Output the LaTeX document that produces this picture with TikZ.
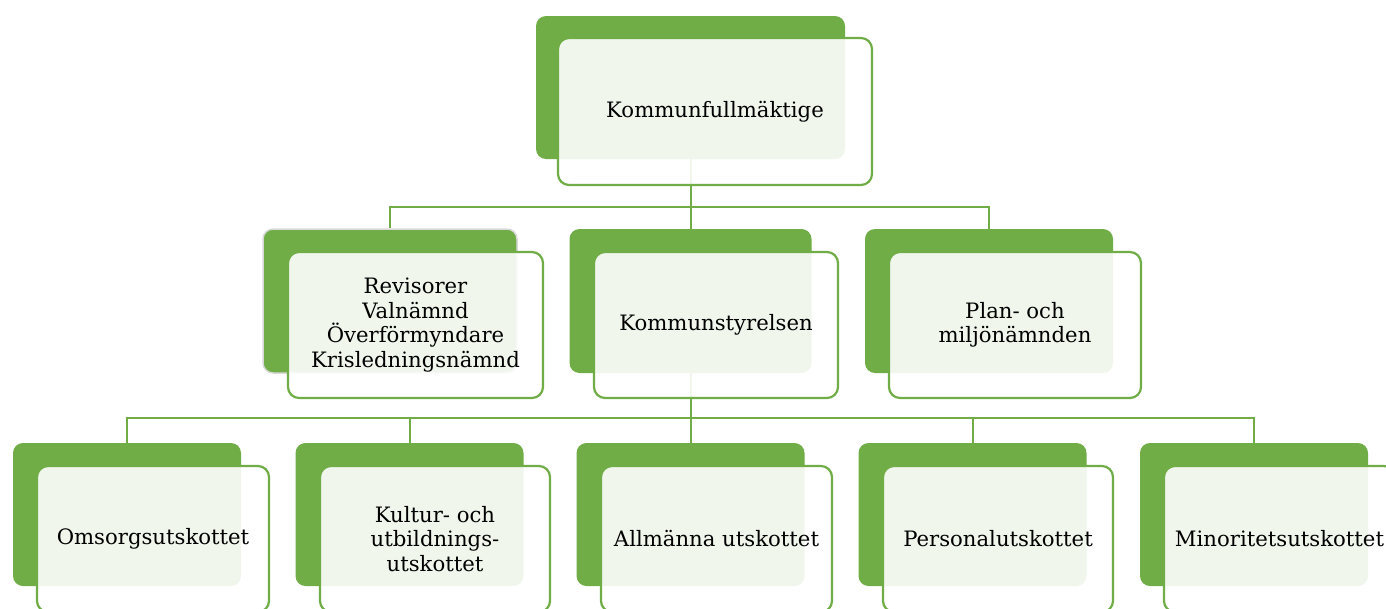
\documentclass[tikz,border=0pt]{standalone}
\usepackage{fontspec}
\setmainfont{DejaVu Serif}
\begin{document}
\begin{tikzpicture}[x=1pt,y=-1pt,
  gbox/.style={fill=grn, draw=none, rounded corners=10pt, inner sep=0pt},
  fbox/.style={draw=grn, line width=2.2pt, fill=white, fill opacity=0.9, text opacity=1,
    rounded corners=11pt, inner sep=0pt, align=center, font=\fontsize{21.2}{24.5}\selectfont},
  conn/.style={draw=grn, line width=2pt}]
\definecolor{grn}{HTML}{70AD47}
\useasboundingbox (0,0) rectangle (1386,608);
% green back boxes
\node[gbox, minimum width=309pt, minimum height=143pt] (kfG) at (690.5,87.5) {};
\node[gbox, draw=black!15, line width=1.5pt, minimum width=254pt, minimum height=144pt] (revG) at (390,301) {};
\node[gbox, minimum width=242pt, minimum height=144pt] (ksG) at (690.5,301) {};
\node[gbox, minimum width=248pt, minimum height=144pt] (planG) at (989,301) {};
\node[gbox, minimum width=228pt, minimum height=143pt] (omG) at (127,514.5) {};
\node[gbox, minimum width=228pt, minimum height=143pt] (kuG) at (409.5,514.5) {};
\node[gbox, minimum width=228pt, minimum height=143pt] (alG) at (690.5,514.5) {};
\node[gbox, minimum width=228pt, minimum height=143pt] (peG) at (972.5,514.5) {};
\node[gbox, minimum width=228pt, minimum height=143pt] (miG) at (1254,514.5) {};
% connectors
\coordinate (bus1) at (690.5,207);
\coordinate (bus2) at (690.5,418);
\draw[conn] (kfG.south) -- (bus1);
\draw[conn] (revG.north) |- (bus1) -| (planG.north);
\draw[conn] (bus1) -- (ksG.north);
\draw[conn] (ksG.south) -- (bus2);
\draw[conn] (omG.north) |- (bus2) -| (miG.north);
\draw[conn] (kuG.north) |- (bus2);
\draw[conn] (bus2) -- (alG.north);
\draw[conn] (peG.north) |- (bus2);
% front boxes
\node[fbox, minimum width=314pt, minimum height=147pt] (kf) at (715,111.5) {Kommunfullmäktige};
\node[fbox, minimum width=255pt, minimum height=146pt] (rev) at (415.5,325) {Revisorer\\Valnämnd\\Överförmyndare\\Krisledningsnämnd};
\node[fbox, minimum width=244pt, minimum height=146pt] (ks) at (716,325) {Kommunstyrelsen};
\node[fbox, minimum width=252pt, minimum height=146pt] (plan) at (1015,325) {Plan- och\\miljönämnden};
\node[fbox, minimum width=232pt, minimum height=146pt] (om) at (153,539) {Omsorgsutskottet};
\node[fbox, minimum width=230pt, minimum height=146pt] (ku) at (435,539) {Kultur- och\\utbildnings-\\utskottet};
\node[fbox, minimum width=231pt, minimum height=146pt] (al) at (716.5,539) {Allmänna utskottet};
\node[fbox, minimum width=230pt, minimum height=146pt] (pe) at (998,539) {Personalutskottet};
\node[fbox, minimum width=231pt, minimum height=146pt] (mi) at (1279.5,539) {Minoritetsutskottet};
\end{tikzpicture}
\end{document}
